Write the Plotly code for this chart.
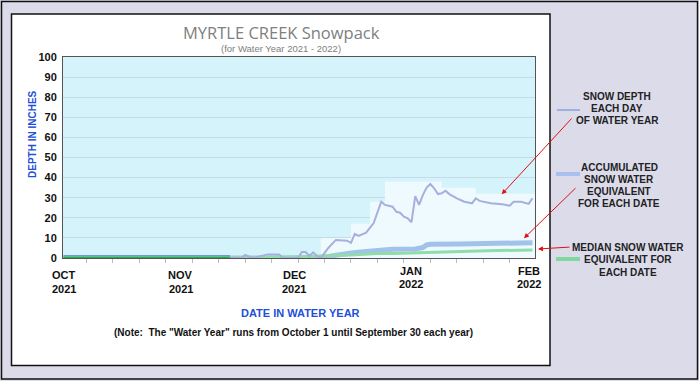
import plotly.graph_objects as go

# ---------------- data ----------------
DEPTH_EARLY_DATES = ["2021-10-01", "2021-11-14"]
DEPTH_EARLY = [0, 0]

DEPTH_DATES = ["2021-11-14", "2021-11-17", "2021-11-18", "2021-11-20", "2021-11-24",
               "2021-11-27", "2021-11-28", "2021-12-02", "2021-12-03", "2021-12-04",
               "2021-12-05", "2021-12-06", "2021-12-07", "2021-12-08", "2021-12-10",
               "2021-12-12", "2021-12-15", "2021-12-16", "2021-12-17", "2021-12-18",
               "2021-12-20", "2021-12-21", "2021-12-22", "2021-12-24", "2021-12-25",
               "2021-12-27", "2021-12-28", "2021-12-29", "2021-12-30", "2021-12-31",
               "2022-01-01", "2022-01-02", "2022-01-03", "2022-01-04", "2022-01-05",
               "2022-01-06", "2022-01-07", "2022-01-08", "2022-01-09", "2022-01-10",
               "2022-01-11", "2022-01-13", "2022-01-15", "2022-01-17", "2022-01-18",
               "2022-01-19", "2022-01-22", "2022-01-25", "2022-01-27", "2022-01-28",
               "2022-01-30", "2022-02-01", "2022-02-02"]
DEPTH = [0, 0, 1.5, 0, 1.8,
         1.8, 0, 0, 3, 3,
         1, 2.8, 1, 0, 5,
         9, 8.6, 7.5, 12, 11,
         12.6, 15, 17.4, 28, 26.4,
         25.5, 23, 22.5, 20.6, 19.7,
         17.8, 30.8, 26.4, 31.3, 35,
         36.8, 34.7, 31.8, 32.2, 33.5,
         31.8, 29.7, 28, 27.2, 29.7,
         28.4, 27.2, 26.7, 26, 28,
         28, 26.9, 29.7]

ENVELOPE_DATES = ["2021-12-08", "2021-12-16", "2021-12-21", "2021-12-25", "2022-01-09",
                  "2022-01-18", "2022-02-03"]
ENVELOPE = [10, 17, 28, 38, 35, 32, 32]

SWE_DATES = ["2021-10-01", "2021-12-07", "2021-12-10", "2021-12-13", "2021-12-16",
             "2021-12-20", "2021-12-24", "2021-12-27", "2022-01-02", "2022-01-04",
             "2022-01-05", "2022-01-06", "2022-01-14", "2022-01-24", "2022-02-02"]
SWE = [0, 0, 0.8, 1.8, 2.5,
       3.2, 4.0, 4.3, 4.5, 5.2,
       6.5, 6.8, 7.0, 7.3, 7.6]

MEDIAN_EARLY_DATES = ["2021-10-01", "2021-11-14"]
MEDIAN_EARLY = [0, 0]
MEDIAN_DATES = ["2021-11-14", "2021-11-30", "2021-12-16", "2021-12-24", "2021-12-27",
                "2022-01-09", "2022-01-21", "2022-02-02"]
MEDIAN = [0, 0.5, 1.5, 2.4, 2.3, 3.1, 3.6, 4.0]

MONTH_TICKS = ["2021-10-01", "2021-11-01", "2021-12-01", "2022-01-01", "2022-02-01"]
MONTH_NAMES = ["OCT", "NOV", "DEC", "JAN", "FEB"]
MONTH_YEARS = ["2021", "2021", "2021", "2022", "2022"]
MONTH_RAISED = [False, False, False, True, True]

Y_TICKS = [0, 10, 20, 30, 40, 50, 60, 70, 80, 90, 100]

# ---------------- layout helpers ----------------
W, H = 699, 381
L, R, T, B = 63, 164, 57, 123
PW, PH = W - L - R, H - T - B


def px(x):
    return (x - L) / PW


def py(y):
    return (H - B - y) / PH


ARIAL = "Liberation Sans, Arial, sans-serif"
BLUE_TXT = "#1f4fd6"

fig = go.Figure()

fig.add_trace(go.Scatter(x=ENVELOPE_DATES, y=ENVELOPE, mode="lines", line=dict(width=0, shape="hv"),
                         fill="tozeroy", fillcolor="#eefafd", hoverinfo="skip"))
fig.add_trace(go.Scatter(x=DEPTH_EARLY_DATES, y=DEPTH_EARLY, mode="lines",
                         line=dict(color="#3d6cc9", width=6)))
fig.add_trace(go.Scatter(x=SWE_DATES, y=SWE, mode="lines", line=dict(color="#a3c2ea", width=5)))
fig.add_trace(go.Scatter(x=MEDIAN_EARLY_DATES, y=MEDIAN_EARLY, mode="lines",
                         line=dict(color="#22b14c", width=3)))
fig.add_trace(go.Scatter(x=MEDIAN_DATES, y=MEDIAN, mode="lines", line=dict(color="#90dcaa", width=3)))
fig.add_trace(go.Scatter(x=DEPTH_DATES, y=DEPTH, mode="lines", line=dict(color="#a6afdd", width=2)))

shapes = [
    dict(type="rect", xref="paper", yref="paper", x0=px(1.5), x1=px(697.5), y0=py(379), y1=py(1.5),
         line=dict(color="#111", width=1.5), fillcolor="#dcdbea", layer="below"),
    dict(type="rect", xref="paper", yref="paper", x0=px(11.5), x1=px(550), y0=py(365.5), y1=py(14),
         line=dict(color="#111", width=1.5), fillcolor="white", layer="below"),
    dict(type="rect", xref="paper", yref="paper", x0=0, x1=1, y0=0, y1=1,
         line=dict(width=0), fillcolor="#d5f3fa", layer="below"),
    # legend samples
    dict(type="line", xref="paper", yref="paper", x0=px(557), x1=px(580), y0=py(110), y1=py(110),
         line=dict(color="#9fb0e0", width=2)),
    dict(type="line", xref="paper", yref="paper", x0=px(556), x1=px(580), y0=py(174), y1=py(174),
         line=dict(color="#a9c0ee", width=4)),
    dict(type="line", xref="paper", yref="paper", x0=px(556), x1=px(580), y0=py(259), y1=py(259),
         line=dict(color="#80d8a0", width=4)),
]

ann = []


def text(x, y, s, size, color="#222", family=ARIAL, xanchor="center", angle=0):
    ann.append(dict(xref="paper", yref="paper", x=px(x), y=py(y), text=s, showarrow=False,
                    xanchor=xanchor, yanchor="middle", textangle=angle,
                    font=dict(size=size, color=color, family=family)))


text(281, 32.5, "MYRTLE CREEK Snowpack", 16.5, "#808080", "Open Sans, Liberation Sans, sans-serif")
text(281, 48.5, "(for Water Year 2021 - 2022)", 9.5, "#808080", ARIAL)
text(32, 134, "<b>DEPTH IN INCHES</b>", 10, BLUE_TXT, ARIAL, angle=-90)
text(300, 313, "<b>DATE IN WATER YEAR</b>", 11, BLUE_TXT, ARIAL)
text(293, 332, "<b>(Note:  The \"Water Year\" runs from October 1 until September 30 each year)</b>",
     10, "#111", ARIAL)

for d, name, yr, raised in zip(MONTH_TICKS, MONTH_NAMES, MONTH_YEARS, MONTH_RAISED):
    y1, y2 = (271, 284) if raised else (275, 289)
    for s, yy in ((name, y1), (yr, y2)):
        ann.append(dict(xref="x", yref="paper", x=d, y=py(yy), text="<b>%s</b>" % s, showarrow=False,
                        xanchor="center", yanchor="middle", font=dict(size=11, color="#111", family=ARIAL)))

for i, s in enumerate(["SNOW DEPTH", "EACH DAY", "OF WATER YEAR"]):
    text(617, 96 + 12.2 * i, "<b>%s</b>" % s, 10)
for i, s in enumerate(["ACCUMULATED", "SNOW WATER", "EQUIVALENT", "FOR EACH DATE"]):
    text(619, 167.3 + 12.2 * i, "<b>%s</b>" % s, 10)
for i, s in enumerate(["MEDIAN SNOW WATER", "EQUIVALENT FOR", "EACH DATE"]):
    text(628, 247.7 + 12.2 * i, "<b>%s</b>" % s, 10)

# red pointer arrows
for (hx, hy, tx, ty) in [(501.7, 194.3, 573, 117), (524, 238.3, 577, 186.7), (538, 249, 571, 247)]:
    ann.append(dict(xref="paper", yref="paper", x=px(hx), y=py(hy), ax=tx - hx, ay=ty - hy,
                    axref="pixel", ayref="pixel", text="", showarrow=True, arrowhead=2,
                    arrowsize=1, arrowwidth=1, arrowcolor="#e01010"))

fig.update_layout(
    width=W, height=H, margin=dict(l=L, r=R, t=T, b=B, autoexpand=False),
    paper_bgcolor="#dcdbea", plot_bgcolor="rgba(0,0,0,0)", showlegend=False,
    shapes=shapes, annotations=ann,
    xaxis=dict(type="date", range=["2021-09-30 20:00", "2022-02-02 16:00"],
               tick0="2021-10-07", dtick=7 * 86400000, showticklabels=False,
               ticks="outside", ticklen=4, tickcolor="#bbbbbb", tickwidth=1,
               showgrid=False, zeroline=False,
               showline=True, mirror=True, linecolor="#555", linewidth=1),
    yaxis=dict(range=[0, 100], tickvals=Y_TICKS, showgrid=True, gridcolor="#c5dbe5", gridwidth=1,
               zeroline=False, showline=True, mirror=True, linecolor="#555", linewidth=1,
               ticks="", ticklabelstandoff=3,
               tickfont=dict(size=11, color="#111", family=ARIAL, weight="bold")),
)

fig.write_html("out.html", config={"displayModeBar": False},
               post_script="document.body.style.margin='0';document.body.style.overflow='hidden';")
